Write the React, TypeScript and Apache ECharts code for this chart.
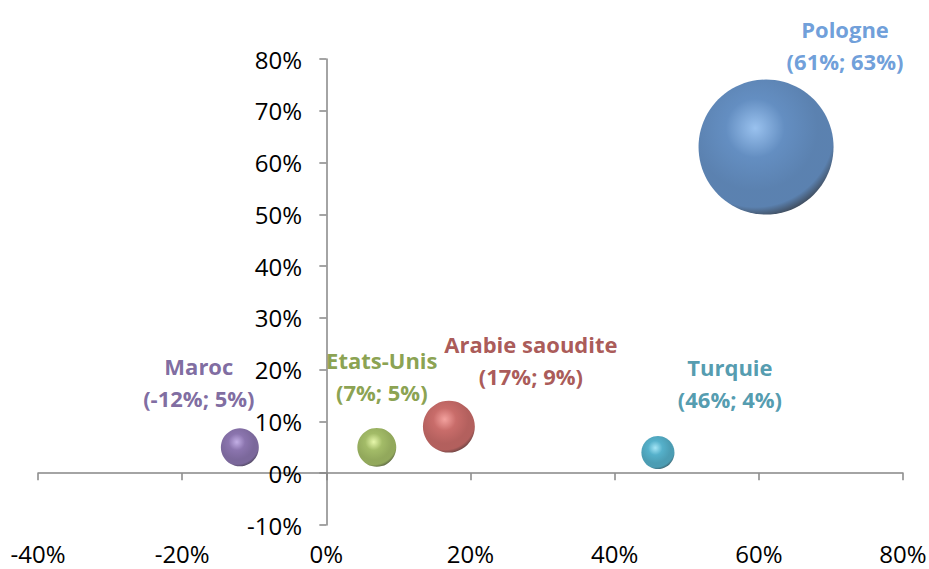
import React, { useEffect, useRef } from "react";
import * as echarts from "echarts";

// Countries plotted as bubbles: x = first growth rate, y = second growth rate (in %)
const countries = ["Maroc", "Etats-Unis", "Arabie saoudite", "Turquie", "Pologne"];
const xValues = [-12, 7, 17, 46, 61];
const yValues = [5, 5, 9, 4, 63];
// Relative bubble weights (bubble area is proportional to the weight)
const weights = [7.9, 8.3, 14.8, 6.0, 100];

const xTicks = { min: -40, max: 80, interval: 20 };
const yTicks = { min: -10, max: 80, interval: 10 };

// Per-country styling: label colour, sphere shading and label placement
const palette = [
  { text: "#5e4689", light: "#b39ade", base: "#6e529a", mid: "#5a4282", dark: "#1c132c" },
  { text: "#6c8a24", light: "#e0f596", base: "#8cab42", mid: "#779333", dark: "#27310e" },
  { text: "#942f2c", light: "#f08a86", base: "#bb4845", mid: "#a03835", dark: "#360e0d" },
  { text: "#27829b", light: "#8fdff4", base: "#2b9dbd", mid: "#1f84a0", dark: "#0a313d" },
  { text: "#4a86d0", light: "#80b2ea", base: "#3d72b2", mid: "#32629c", dark: "#09121f" },
];
const labelOffsets: [number, number][] = [
  [-41, -65],
  [5, -71],
  [82, -67],
  [72, -70],
  [79, -102],
];

const MAX_DIAMETER = 135;
const maxWeight = Math.max(...weights);

export default function App() {
  const ref = useRef<HTMLDivElement>(null);

  useEffect(() => {
    if (!ref.current) return;
    const chart = echarts.init(ref.current, null, { renderer: "svg" });
    const font = "'Open Sans', 'Noto Sans', sans-serif";
    const axisColor = "#868686";

    const data = countries.map((name, i) => ({
      name,
      value: [xValues[i], yValues[i], weights[i]],
      itemStyle: {
        color: {
          type: "radial",
          x: 0.42,
          y: 0.36,
          r: 0.68,
          colorStops: [
            { offset: 0, color: palette[i].light },
            { offset: 0.32, color: palette[i].base },
            { offset: 0.68, color: palette[i].mid },
            { offset: 0.86, color: palette[i].mid },
            { offset: 1, color: palette[i].dark },
          ],
        },
      },
      label: {
        color: palette[i].text,
        offset: labelOffsets[i],
      },
    }));

    chart.setOption({
      animation: false,
      backgroundColor: "#ffffff",
      grid: { left: 38, right: 26, top: 59, bottom: 44, outerBoundsMode: "none" },
      xAxis: {
        type: "value",
        min: xTicks.min,
        max: xTicks.max,
        interval: xTicks.interval,
        axisLine: { onZero: true, lineStyle: { color: axisColor, width: 1.5 } },
        axisTick: { show: true, length: 7, lineStyle: { color: axisColor, width: 1.5 } },
        // labels sit along the bottom edge of the plot
        axisLabel: {
          margin: 16,
          fontFamily: font,
          fontSize: 24,
          lineHeight: 24,
          color: "#000",
          formatter: (v: number) => `${v}%`,
        },
        splitLine: { show: false },
      },
      yAxis: {
        type: "value",
        min: yTicks.min,
        max: yTicks.max,
        interval: yTicks.interval,
        axisLine: { onZero: true, lineStyle: { color: axisColor, width: 1.5 } },
        axisTick: { show: true, length: 7, lineStyle: { color: axisColor, width: 1.5 } },
        // shift labels from the grid edge to just left of the x = 0 axis line
        axisLabel: {
          margin: -264,
          fontFamily: font,
          fontSize: 24,
          color: "#000",
          formatter: (v: number) => `${v}%`,
        },
        splitLine: { show: false },
      },
      series: [
        {
          type: "scatter",
          data,
          symbol: "circle",
          symbolSize: (val: number[]) => MAX_DIAMETER * Math.sqrt(val[2] / maxWeight),
          label: {
            show: true,
            position: "inside",
            align: "center",
            verticalAlign: "middle",
            fontFamily: font,
            fontSize: 22,
            fontWeight: "bold",
            lineHeight: 32,
            formatter: (p: any) => `${p.name}\n(${p.value[0]}%; ${p.value[1]}%)`,
          },
        },
      ],
    });

    return () => chart.dispose();
  }, []);

  return (
    <div
      ref={ref}
      style={{ position: "fixed", left: 0, top: 0, width: 929, height: 569 }}
    />
  );
}
